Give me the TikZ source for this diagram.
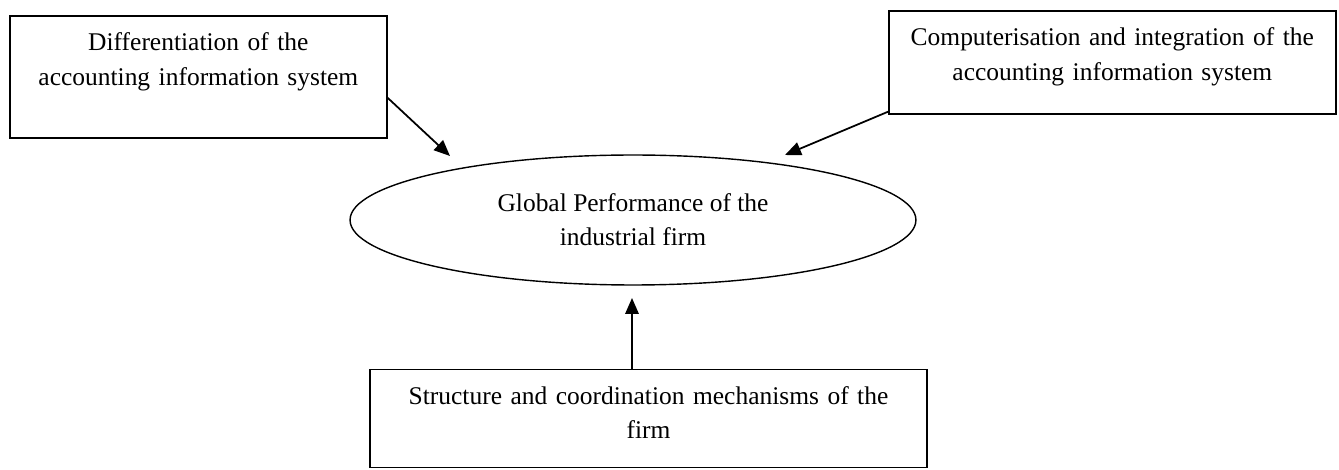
\documentclass[tikz,border=0pt]{standalone}
\usepackage{fontspec}
\setmainfont{Liberation Serif}
\usetikzlibrary{arrows.meta, positioning, shapes.geometric}

\begin{document}
\begin{tikzpicture}[
        x=0.02cm, y=0.02cm,
        box/.style={draw, line width=1pt, rectangle, text width=#1, align=center, inner sep=0pt, text height=0.7cm, font=\fontsize{14.5}{19.5}\selectfont},
        goal/.style={draw, line width=0.8pt, ellipse, minimum width=11.32cm, minimum height=2.6cm, inner sep=0pt, align=center, font=\fontsize{14.5}{19.5}\selectfont},
        >={Triangle[length=0.32cm, width=0.27cm]}
    ]
        \useasboundingbox (0,0) rectangle (1339,470);
        % Nodes
        \node[goal] (performance) at (633,250) {Global Performance of the\\industrial firm};
        \node[box=7.54cm, text depth=1.74cm, anchor=north west] (differentiation) at (9,455) {Differentiation of the\\accounting information system};
        \node[box=8.94cm, text depth=1.36cm, anchor=north west] (computerisation) at (888,460) {Computerisation and integration of the\\accounting information system};
        \node[box=11.14cm, text depth=1.26cm, below=1.66cm of performance, xshift=0.31cm] (structure) {Structure and coordination mechanisms of the\\firm};

        % Arrow tips stop short of the ellipse
        \coordinate (tipdiff) at (450,314);
        \coordinate (tipcomp) at (785,315);
        \coordinate (tipstruct) at (632,172);

        % Arrows
        \draw[->, line width=1pt] ([yshift=-0.42cm]differentiation.east) -- (tipdiff);
        \draw[->, line width=1pt] ([yshift=0.06cm]computerisation.south west) -- (tipcomp);
        \draw[->, line width=1pt] (structure.north -| tipstruct) -- (tipstruct);
    \end{tikzpicture}
\end{document}
